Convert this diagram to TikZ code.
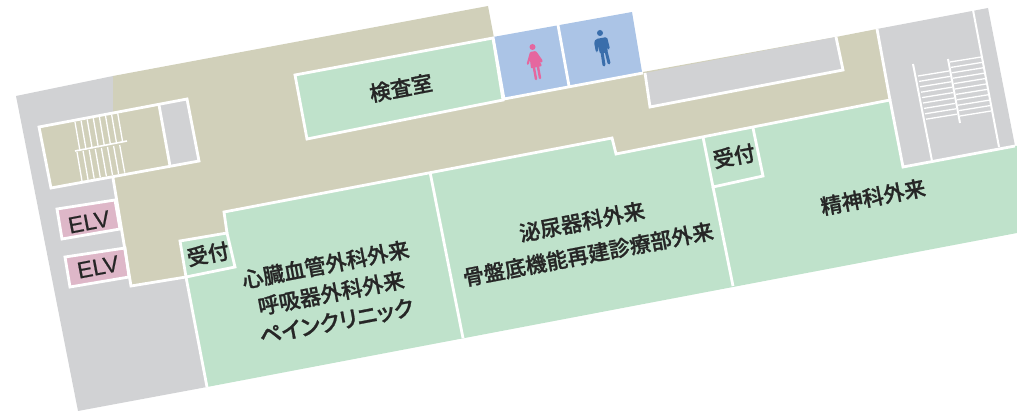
\documentclass[tikz,border=0pt]{standalone}
\usepackage{fontspec}
\newfontfamily\cjk[FakeBold=1]{Noto Sans CJK JP Medium}
\newfontfamily\cjkpalt[RawFeature=+palt,FakeBold=1]{Noto Sans CJK JP Medium}
\newfontfamily\elvfont[FakeBold=0.6]{Liberation Sans}
\definecolor{roomgreen}{HTML}{BFE2CB}
\definecolor{hallbeige}{HTML}{D1D0BA}
\definecolor{wallgrey}{HTML}{D1D2D4}
\definecolor{wcblue}{HTML}{ABC4E6}
\definecolor{elvpink}{HTML}{DEB7C8}
\definecolor{ladypink}{HTML}{E5679F}
\definecolor{manblue}{HTML}{3A6EAB}
\tikzset{
  wall/.style={draw=white,line width=2.8pt,line join=miter},
  rung/.style={draw=white,line width=1.3pt},
  roomlabel/.style={font=\cjk\fontsize{21.2}{29}\selectfont,text=black!85,rotate=10.8,align=center,inner sep=0pt},
  elvlabel/.style={font=\elvfont\fontsize{23}{24}\selectfont,text=black!85,rotate=10.8,inner sep=0pt}
}
\begin{document}
\begin{tikzpicture}[x=1pt,y=-1pt]
      \useasboundingbox (0,0) rectangle (1017,411);
      % outer corners
      \coordinate (G1) at (16,96);
      \coordinate (G2) at (113,76);
      \coordinate (G3) at (78,411);
      \coordinate (G4) at (207,387);
      \coordinate (H1) at (488,6);
      \coordinate (H2) at (877,29);
      \coordinate (H3) at (890,100);
      \coordinate (H4) at (616,154);
      \coordinate (H5) at (612,138);
      \coordinate (H6) at (224,212);
      \coordinate (H7) at (131,286);
      \coordinate (H8) at (113,178);
      \coordinate (R1) at (180,241);
      \coordinate (R2) at (227,233);
      \coordinate (R3) at (235,267);
      \coordinate (R4) at (186,277);
      \coordinate (M1) at (430,172);
      \coordinate (M2) at (463,338);
      \coordinate (N1) at (703,137);
      \coordinate (N2) at (713,187);
      \coordinate (N3) at (763,176);
      \coordinate (N4) at (753,128);
      \coordinate (N5) at (733,286);
      \coordinate (S1) at (988,8);
      \coordinate (S2) at (1015,146);
      \coordinate (S3) at (903,167);
      \coordinate (S4) at (973,10);
      \coordinate (S5) at (999,147);
      \coordinate (S6) at (913,64);
      \coordinate (S7) at (932,161);
      \coordinate (S8) at (948,59);
      \coordinate (S9) at (960,123);
      % floor areas
      \fill[wallgrey] (G1) -- (G2) -- (H7) -- (R4) -- (G4) -- (G3) -- cycle;
      \fill[hallbeige] (G2) -- (H1) -- (494,38) -- (643,72) -- (836,37) -- (H2) -- (H3) -- (H4) -- (H5) -- (H6) -- (R2) -- (R1) -- (R4) -- (H7) -- (H8) -- cycle;
      \fill[roomgreen] (H6) -- (H5) -- (H4) -- (H3) -- (S3) -- (S2) -- (1017,146) -- (1017,233) -- (G4) -- (R4) -- (R3) -- (R2) -- cycle;
      \fill[roomgreen] (R1) -- (R2) -- (R3) -- (R4) -- cycle;
      \fill[wallgrey] (H2) -- (S1) -- (S2) -- (S3) -- cycle;
      % rooms with a wall
      \filldraw[fill=roomgreen,wall] (295,75) -- (493,38) -- (503,100) -- (307,139) -- cycle;
      \fill[wcblue] (493,37) -- (632,12) -- (642,72) -- (504,99) -- cycle;
      \draw[wall] (493,37) -- (504,99) -- (643,73);
      \draw[wall] (558,25) -- (569,86);
      \fill[wallgrey] (645,73) -- (836,37) -- (843,70) -- (650,107) -- cycle;
      \draw[wall] (645,73) -- (650,107) -- (843,70) -- (836,37);
      % left stairs
      \fill[hallbeige] (39,127) -- (159,105) -- (170,166) -- (51,188) -- cycle;
      \fill[wallgrey] (159,105) -- (187,99) -- (199,161) -- (170,166) -- cycle;
      \draw[wall] (39,127) -- (187,99) -- (199,161) -- (51,188) -- cycle;
      \draw[wall] (159,105) -- (170,166);
      \foreach \i in {0,...,7} {
        \draw[rung] (75+6.1*\i,122-1.25*\i) -- (80+6.1*\i,151-1.25*\i);
        \draw[rung] (77+6.1*\i,152-1.0*\i) -- (82+6.1*\i,181-1.2*\i);
      }
      \draw[rung,line width=1.6pt] (75,151) -- (127,141);
      % elevators
      \filldraw[fill=elvpink,wall] (57,209) -- (115,200) -- (120,229) -- (62,239) -- cycle;
      \filldraw[fill=elvpink,wall] (65,257) -- (125,248) -- (129,277) -- (70,287) -- cycle;
      % walls
      \draw[wall] (H8) -- (H7) -- (R4) -- (G4);
      \draw[wall] (R1) -- (R2) -- (R3) -- (R4) -- cycle;
      \draw[wall] (R2) -- (H6) -- (H5) -- (H4) -- (H3) -- (S3) -- (S2);
      \draw[wall] (H2) -- (H3);
      \draw[wall] (M1) -- (M2);
      \draw[wall] (N1) -- (N2) -- (N3) -- (N4);
      \draw[wall] (N2) -- (N5);
      % right stairs
      \draw[wall,line width=2pt] (S4) -- (S5);
      \draw[wall,line width=2pt] (S6) -- (S7);
      \draw[wall,line width=2pt] (S8) -- (S9);
      \foreach \i in {0,...,8} {
        \draw[rung] (918+1.0*\i,76+5.4*\i) -- (949+1.0*\i,71+5.4*\i);
      }
      \foreach \i in {0,...,10} {
        \draw[rung] (950+1.0*\i,62+5.4*\i) -- (981+1.0*\i,57+5.4*\i);
      }
      % lady
      \fill[ladypink] (532.5,47) circle (3);
      \fill[ladypink,rounded corners=1pt] (530,52) -- (536,51) -- (543,61) -- (541,63) -- (538,58) -- (542,66) -- (531,68.5) -- (530,60) -- (528.5,65) -- (526.5,64.5) -- cycle;
      \draw[ladypink,line width=2.4pt,line cap=round] (534,68) -- (536,79);
      \draw[ladypink,line width=2.4pt,line cap=round] (538,67) -- (540,78);
      % man
      \fill[manblue] (600,33) circle (3);
      \fill[manblue,rounded corners=1.5pt] (596,39) -- (607,37) -- (610,49) -- (608,50) -- (606,43) -- (608,52) -- (600,54) -- (598,45) -- (598,52) -- (596,52.5) -- (594,42) -- cycle;
      \draw[manblue,line width=3pt,line cap=round] (602,52) -- (604,65);
      \draw[manblue,line width=3pt,line cap=round] (606,51) -- (609,63);
      % labels
      \node[roomlabel] (kensa) at (401,88) {検査室};
      \node[roomlabel] (hinyo) at (585,238) {泌尿器科外来\\[4pt]骨盤底機能再建診療部外来};
      \node[roomlabel] (shinzo) at (331,293) {心臓血管外科外来\\呼吸器外科外来\\{\cjkpalt\fontsize{22}{29}\selectfont ペインクリニック}};
      \node[roomlabel] (seishin) at (873,197) {精神科外来};
      \node[roomlabel] (uketsuke1) at (208,254) {受付};
      \node[roomlabel] (uketsuke2) at (734,156) {受付};
      \node[elvlabel] (elv1) at (89,222) {ELV};
      \node[elvlabel] (elv2) at (98,267) {ELV};
    \end{tikzpicture}
\end{document}
